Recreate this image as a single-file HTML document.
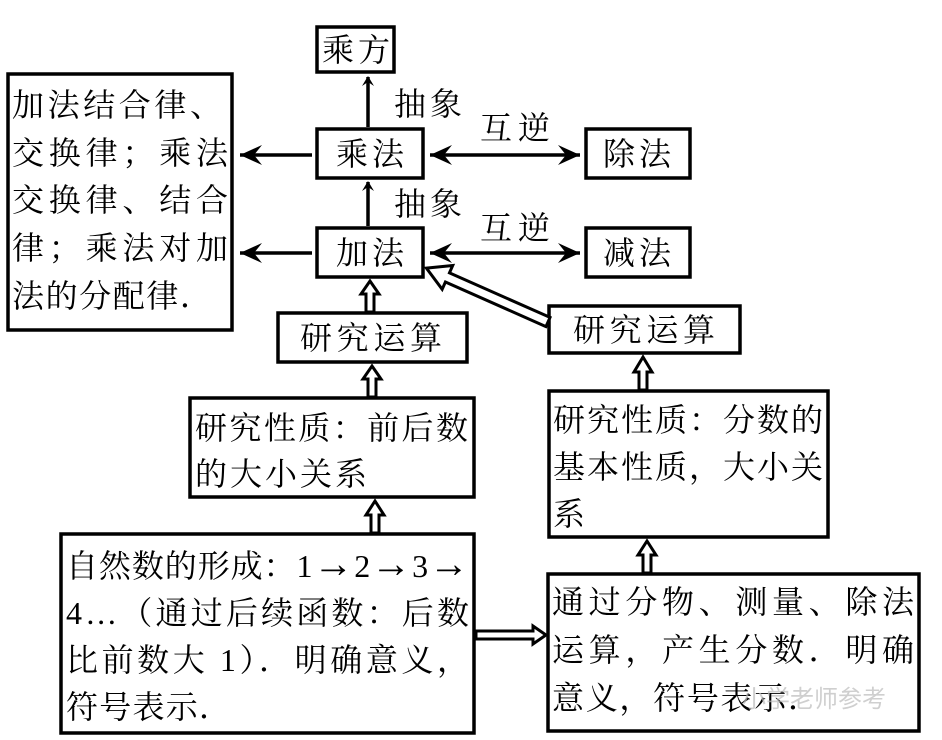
<!DOCTYPE html>
<html><head><meta charset="utf-8"><style>
html,body{margin:0;padding:0;background:#fff;}
svg{display:block;}
text{font-family:"Liberation Serif","Noto Serif CJK SC","Noto Sans CJK SC",serif;font-size:32px;fill:#000;}
</style></head><body>
<svg width="942" height="740" viewBox="0 0 942 740" xmlns="http://www.w3.org/2000/svg">
<defs>
<marker id="ah" markerWidth="12" markerHeight="12" refX="9" refY="6" orient="auto" markerUnits="userSpaceOnUse">
<path d="M0,0 L10,6 L0,12 L4,6 Z" fill="#000"/>
</marker>
<marker id="ahs" markerWidth="24" markerHeight="24" refX="22" refY="12" orient="auto" markerUnits="userSpaceOnUse">
<path d="M0,2 L22,12 L0,22 L8,12 Z" fill="#000"/>
</marker>
<marker id="ahsr" markerWidth="24" markerHeight="24" refX="2" refY="12" orient="auto" markerUnits="userSpaceOnUse">
<path d="M24,2 L2,12 L24,22 L16,12 Z" fill="#000"/>
</marker>
</defs>
<g fill="none" stroke="#000" stroke-width="3.5">
<rect x="317" y="27" width="77" height="45"/>
<rect x="8" y="74" width="224" height="256"/>
<rect x="317" y="129" width="106" height="49"/>
<rect x="586" y="129" width="104" height="49"/>
<rect x="317" y="228" width="106" height="49"/>
<rect x="586" y="228" width="104" height="49"/>
<rect x="278" y="313" width="189" height="49"/>
<rect x="549" y="306" width="191" height="47"/>
<rect x="190" y="398" width="284" height="99"/>
<rect x="549" y="391" width="279" height="146"/>
<rect x="61" y="534" width="413" height="199"/>
<rect x="548" y="574" width="371" height="157"/>
</g>
<g stroke="#000" stroke-width="3.5" fill="none">
<line x1="368" y1="127" x2="368" y2="77" marker-end="url(#ah)"/>
<line x1="368" y1="226" x2="368" y2="182" marker-end="url(#ah)"/>
<line x1="312" y1="155" x2="240" y2="155" marker-end="url(#ahs)"/>
<line x1="312" y1="253" x2="240" y2="253" marker-end="url(#ahs)"/>
<line x1="430" y1="155" x2="580" y2="155" marker-start="url(#ahsr)" marker-end="url(#ahs)"/>
<line x1="430" y1="253" x2="580" y2="253" marker-start="url(#ahsr)" marker-end="url(#ahs)"/>
</g>
<g fill="#fff" stroke="#000" stroke-width="3" stroke-linejoin="miter">
<polygon points="366,312 366,294 361,294 370,281 379,294 374,294 374,312"/>
<polygon points="368,397 368,379 363,379 372,366 381,379 376,379 376,397"/>
<polygon points="371,533 371,515 366,515 375,501 384,515 379,515 379,533"/>
<polygon points="639,390 639,372 634,372 643,357 652,372 647,372 647,390"/>
<polygon points="643,573 643,555 638,555 647,541 656,555 651,555 651,573"/>
<polygon points="476,631 533,631 533,626 546,635 533,644 533,639 476,639"/>
<g transform="translate(548,322) rotate(203.9)">
<polygon points="0,-5 110,-5 110,-13 133,0 110,13 110,5 0,5"/>
</g>
</g>
<g>
<text x="322" y="61" textLength="68" lengthAdjust="spacing">乘方</text>
<text x="336" y="165" textLength="68" lengthAdjust="spacing">乘法</text>
<text x="603" y="165" textLength="68" lengthAdjust="spacing">除法</text>
<text x="336" y="264" textLength="68" lengthAdjust="spacing">加法</text>
<text x="603" y="264" textLength="68" lengthAdjust="spacing">减法</text>
<text x="300" y="349" textLength="142" lengthAdjust="spacing">研究运算</text>
<text x="573" y="341" textLength="142" lengthAdjust="spacing">研究运算</text>
<text x="394" y="115" textLength="68" lengthAdjust="spacing">抽象</text>
<text x="394" y="215" textLength="68" lengthAdjust="spacing">抽象</text>
<text x="480" y="139" textLength="70" lengthAdjust="spacing">互逆</text>
<text x="480" y="239" textLength="70" lengthAdjust="spacing">互逆</text>
<text x="12" y="116" textLength="210" lengthAdjust="spacing">加法结合律、</text>
<text x="12" y="164" textLength="216" lengthAdjust="spacing">交换律；乘法</text>
<text x="12" y="211" textLength="216" lengthAdjust="spacing">交换律、结合</text>
<text x="12" y="259" textLength="216" lengthAdjust="spacing">律；乘法对加</text>
<text x="12" y="307" textLength="200" lengthAdjust="spacing">法的分配律．</text>
<text x="195" y="439" textLength="273" lengthAdjust="spacing">研究性质：前后数</text>
<text x="195" y="485" textLength="172" lengthAdjust="spacing">的大小关系</text>
<text x="553" y="431" textLength="270" lengthAdjust="spacing">研究性质：分数的</text>
<text x="553" y="478" textLength="270" lengthAdjust="spacing">基本性质，大小关</text>
<text x="553" y="525">系</text>
<text x="66" y="577" textLength="403" lengthAdjust="spacing">自然数的形成：1<tspan font-size="40">→</tspan>2<tspan font-size="40">→</tspan>3<tspan font-size="40">→</tspan></text>
<text x="66" y="624" textLength="403" lengthAdjust="spacing">4…（通过后续函数：后数</text>
<text x="66" y="671" textLength="403" lengthAdjust="spacing">比前数大 1）．明确意义，</text>
<text x="66" y="718" textLength="165" lengthAdjust="spacing">符号表示．</text>
<text x="552" y="613" textLength="362" lengthAdjust="spacing">通过分物、测量、除法</text>
<text x="552" y="661" textLength="362" lengthAdjust="spacing">运算，产生分数．明确</text>
<text x="552" y="709" textLength="268" lengthAdjust="spacing">意义，符号表示．</text>
<text x="742" y="707" style="font-family:'Liberation Sans','Noto Sans CJK SC',sans-serif;font-size:24px;fill:#bbb;opacity:0.7">小学老师参考</text>
</g>
</svg>
</body></html>
